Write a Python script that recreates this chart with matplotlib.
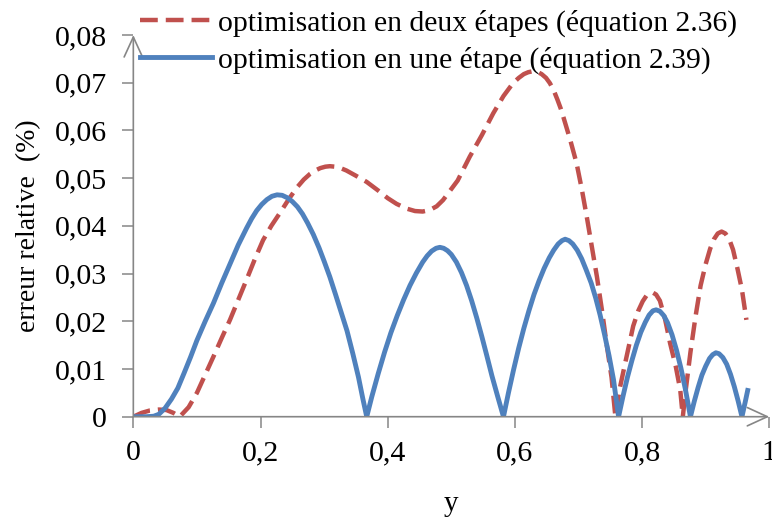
import matplotlib
matplotlib.use("Agg")
import matplotlib.pyplot as plt

# ---- data ----
# optimisation en une étape (solid blue)
blue_x = [0.0, 0.02, 0.032, 0.04, 0.05, 0.06, 0.07, 0.08, 0.09, 0.10, 0.113, 0.126, 0.139,
          0.152, 0.165, 0.178, 0.186, 0.194, 0.202, 0.21, 0.218, 0.226, 0.234, 0.242,
          0.25, 0.258, 0.266, 0.274, 0.283, 0.292, 0.30, 0.309, 0.318, 0.327, 0.336,
          0.345, 0.354, 0.361, 0.367,
          0.375, 0.385, 0.395, 0.405, 0.415, 0.425, 0.435, 0.445, 0.455, 0.462, 0.469,
          0.476, 0.482, 0.488, 0.494, 0.50, 0.508, 0.516, 0.524, 0.532, 0.54, 0.548,
          0.556, 0.564, 0.573, 0.582,
          0.59, 0.598, 0.606, 0.614, 0.622, 0.63, 0.638, 0.646, 0.654, 0.661, 0.668,
          0.674, 0.679, 0.685, 0.691, 0.698, 0.705, 0.712, 0.72, 0.727, 0.734, 0.741,
          0.748, 0.755, 0.763,
          0.77, 0.777, 0.784, 0.791, 0.798, 0.805, 0.811, 0.817, 0.822, 0.828, 0.834,
          0.84, 0.847, 0.854, 0.861, 0.868, 0.876,
          0.882, 0.888, 0.894, 0.90, 0.906, 0.911, 0.916, 0.921, 0.927, 0.933, 0.939,
          0.945, 0.951, 0.957, 0.962, 0.966]
blue_y = [0.0, 0.0, 0.0001, 0.0005, 0.0018, 0.0037, 0.006, 0.0092, 0.0125, 0.016, 0.020, 0.0238, 0.028,
          0.032, 0.036, 0.0395, 0.0415, 0.0432, 0.0445, 0.0455, 0.0462, 0.0465, 0.0464, 0.0459,
          0.0451, 0.044, 0.0425, 0.0406, 0.0382, 0.0354, 0.0326, 0.0293, 0.0256, 0.0218, 0.018,
          0.0133, 0.0083, 0.0037, 0.0,
          0.0042, 0.009, 0.0135, 0.0176, 0.0212, 0.0245, 0.0275, 0.0301, 0.0324, 0.0337, 0.0347,
          0.0353, 0.0355, 0.0353, 0.0348, 0.034, 0.0324, 0.0302, 0.0275, 0.0243, 0.0207, 0.0168,
          0.0127, 0.0085, 0.0042, 0.0,
          0.0051, 0.0099, 0.0144, 0.0185, 0.0222, 0.0256, 0.0285, 0.0311, 0.0333, 0.0349, 0.0362,
          0.0369, 0.0372, 0.0369, 0.0362, 0.0349, 0.0331, 0.0308, 0.028, 0.0249, 0.0213, 0.0172,
          0.0128, 0.0078, 0.0,
          0.0043, 0.0083, 0.0118, 0.015, 0.0177, 0.0198, 0.0213, 0.0222, 0.0224, 0.0221, 0.0212,
          0.0197, 0.0172, 0.014, 0.0102, 0.0058, 0.0,
          0.0032, 0.0061, 0.0087, 0.0106, 0.0122, 0.013, 0.0134, 0.0132, 0.0124, 0.011, 0.0089,
          0.0063, 0.0033, 0.0, 0.003, 0.0055]

# optimisation en deux étapes (dashed red)
red_x = [0.0, 0.013, 0.026, 0.04, 0.052, 0.063, 0.073, 0.087, 0.10, 0.113, 0.126, 0.139,
         0.152, 0.165, 0.178, 0.191, 0.204, 0.217, 0.231, 0.244, 0.257, 0.268, 0.278,
         0.286, 0.294, 0.302, 0.309, 0.317, 0.326, 0.335, 0.35, 0.367, 0.385, 0.40,
         0.414, 0.43, 0.443, 0.455, 0.466, 0.477, 0.487, 0.51, 0.529, 0.548, 0.566,
         0.582, 0.597, 0.606, 0.614, 0.621, 0.628, 0.635, 0.642, 0.649, 0.655, 0.661,
         0.667, 0.672, 0.676, 0.687, 0.697, 0.705, 0.713, 0.721, 0.729, 0.737, 0.744,
         0.752, 0.758,
         0.765, 0.773, 0.786, 0.794, 0.801, 0.807, 0.812, 0.817, 0.822, 0.828, 0.836,
         0.844, 0.853, 0.86, 0.864,
         0.869, 0.876, 0.884, 0.892, 0.90, 0.907, 0.913, 0.919, 0.925, 0.931, 0.937,
         0.943, 0.95, 0.957, 0.964]
red_y = [0.0, 0.0008, 0.0013, 0.0015, 0.0014, 0.0008, 0.0, 0.002, 0.005, 0.0088, 0.0126, 0.0165,
         0.0203, 0.0245, 0.0287, 0.033, 0.037, 0.040, 0.0428, 0.0455, 0.048, 0.0497, 0.0509,
         0.0516, 0.0521, 0.0524, 0.0525, 0.0524, 0.0521, 0.0516, 0.0505, 0.0492, 0.0474, 0.0458,
         0.0446, 0.0436, 0.0431, 0.043, 0.0433, 0.0441, 0.0454, 0.0495, 0.0545, 0.059, 0.0636,
         0.0672, 0.0699, 0.071, 0.0718, 0.0722, 0.0724, 0.0723, 0.0718, 0.071, 0.0699, 0.0684,
         0.0664, 0.0646, 0.0629, 0.058, 0.0531, 0.0478, 0.0419, 0.0356, 0.0293, 0.0222, 0.0154,
         0.0082, 0.0,
         0.006, 0.011, 0.019, 0.0222, 0.0242, 0.0254, 0.0259, 0.026, 0.0256, 0.0243, 0.0205,
         0.0154, 0.0105, 0.0056, 0.0,
         0.006, 0.0135, 0.021, 0.0275, 0.032, 0.0352, 0.0372, 0.0384, 0.0388, 0.0384, 0.0372,
         0.035, 0.031, 0.0266, 0.0203]

xticks = [0, 0.2, 0.4, 0.6, 0.8, 1.0]
xtick_labels = ["0", "0,2", "0,4", "0,6", "0,8", "1"]
yticks = [0, 0.01, 0.02, 0.03, 0.04, 0.05, 0.06, 0.07, 0.08]
ytick_labels = ["0", "0,01", "0,02", "0,03", "0,04", "0,05", "0,06", "0,07", "0,08"]

BLUE = "#4F81BD"
RED = "#C0504D"
GRAY = "#868686"

plt.rcParams["font.family"] = ["Liberation Serif", "DejaVu Serif"]

fig = plt.figure(figsize=(7.72, 5.19), dpi=100)
ax = fig.add_axes([0.1727, 0.1971, 0.8238, 0.7355])
ax.patch.set_alpha(0)

ln_red, = ax.plot(red_x, red_y, color=RED, lw=3.2, dashes=(4, 1.8),
                  dash_capstyle="butt", label="optimisation en deux étapes (équation 2.36)")
ln_blue, = ax.plot(blue_x, blue_y, color=BLUE, lw=3.5, solid_joinstyle="round",
                   label="optimisation en une étape (équation 2.39)")

ax.set_xlim(0, 1)
ax.set_ylim(0, 0.08)
ax.set_xticks(xticks)
ax.set_xticklabels(xtick_labels)
ax.set_yticks(yticks)
ax.set_yticklabels(ytick_labels)

for s in ("top", "right", "left", "bottom"):
    ax.spines[s].set_visible(False)

# axes drawn as arrows like the original
ax.annotate("", xy=(0, 1.0), xytext=(0, 0), xycoords="axes fraction",
            arrowprops=dict(arrowstyle="->,head_length=1.2,head_width=0.55",
                            color=GRAY, lw=1.2, shrinkA=0, shrinkB=0, mutation_scale=12))
ax.annotate("", xy=(1.0, 0), xytext=(0, 0), xycoords="axes fraction",
            arrowprops=dict(arrowstyle="->,head_length=1.2,head_width=0.55",
                            color=GRAY, lw=1.2, shrinkA=0, shrinkB=0, mutation_scale=12))

ax.tick_params(axis="both", direction="out", length=8, width=1.1, color=GRAY,
               labelsize=21.5)
ax.tick_params(axis="y", pad=11)
ax.tick_params(axis="x", pad=9)

ax.set_xlabel("y", fontsize=21, labelpad=18)
ax.set_ylabel("erreur relative  (%)", fontsize=20, labelpad=10)

fig.legend(handles=[ln_red, ln_blue], loc="upper left",
           bbox_to_anchor=(0.166, 1.004), frameon=False, fontsize=21.3,
           handlelength=2.45, handletextpad=0.2, labelspacing=0.33, borderaxespad=0)

fig.savefig("out.png", dpi=100)
